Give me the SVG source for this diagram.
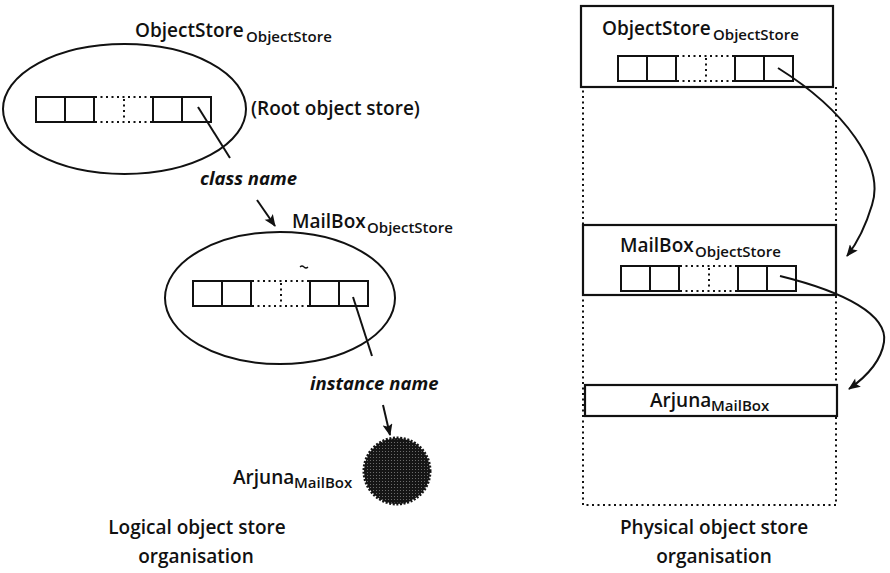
<svg xmlns="http://www.w3.org/2000/svg" width="890" height="573" viewBox="0 0 890 573">
  <style>
    .t { font-family: "Open Sans", "Liberation Sans", sans-serif; font-weight: 600; font-size: 19px; fill: #111; }
    .sub { font-family: "Open Sans", "Liberation Sans", sans-serif; font-weight: 600; font-size: 15px; fill: #111; }
    .it { font-family: "Open Sans", "Liberation Sans", sans-serif; font-weight: 700; font-style: italic; font-size: 18.5px; fill: #111; }
    .solid { fill: none; stroke: #111; stroke-width: 2; }
    .box { fill: #fff; stroke: #111; stroke-width: 2.2; }
    .dot { fill: none; stroke: #111; stroke-width: 2; stroke-dasharray: 2 3.5; }
    .link { fill: none; stroke: #111; stroke-width: 2; }
  </style>
  <defs>
    <marker id="head" viewBox="0 0 12 10" refX="11" refY="5" markerWidth="13" markerHeight="10" markerUnits="userSpaceOnUse" orient="auto">
      <path d="M0,0 L12,5 L0,10 L2.5,5 Z" fill="#111"/>
    </marker>
    <pattern id="stipple" width="3" height="3" patternUnits="userSpaceOnUse">
      <rect width="3" height="3" fill="#151515"/>
      <circle cx="1.5" cy="1.5" r="0.55" fill="#7a7a7a"/>
    </pattern>
    <!-- a row of name slots: two cells, a dotted gap, two cells -->
    <g id="slots">
      <rect class="solid" x="0" y="0" width="58" height="25"/>
      <line class="solid" x1="29" y1="0" x2="29" y2="25"/>
      <line class="dot" x1="59" y1="0" x2="117" y2="0"/>
      <line class="dot" x1="59" y1="25" x2="117" y2="25"/>
      <line class="dot" x1="88" y1="2" x2="88" y2="24"/>
      <rect class="solid" x="117" y="0" width="58" height="25"/>
      <line class="solid" x1="146" y1="0" x2="146" y2="25"/>
    </g>
  </defs>

  <!-- logical organisation -->
  <g id="root-store">
    <text class="t" x="135" y="37">ObjectStore</text>
    <text class="sub" x="246" y="42">ObjectStore</text>
    <ellipse class="solid" cx="124.5" cy="109" rx="121.5" ry="65"/>
    <use href="#slots" x="36" y="97"/>
    <text class="t" x="251" y="115">(Root object store)</text>
  </g>

  <g id="mailbox-store">
    <text class="t" x="292" y="228">MailBox</text>
    <text class="sub" x="367" y="233">ObjectStore</text>
    <ellipse class="solid" cx="280" cy="298" rx="115" ry="66"/>
    <use href="#slots" x="193" y="281"/>
    <path d="M300,267 q2,-2 4,0 t4,0" fill="none" stroke="#111" stroke-width="1.2"/>
  </g>

  <g id="arjuna-object">
    <text class="t" x="233" y="484">Arjuna</text>
    <text class="sub" x="294" y="488">MailBox</text>
    <circle cx="397" cy="471" r="33" fill="url(#stipple)" stroke="#151515" stroke-width="3" stroke-dasharray="2 1.6"/>
  </g>

  <g id="logical-caption">
    <text class="t" x="197" y="534" text-anchor="middle">Logical object store</text>
    <text class="t" x="196" y="563" text-anchor="middle">organisation</text>
  </g>

  <!-- physical organisation -->
  <g id="physical-store">
    <rect class="dot" x="583" y="87" width="253" height="418"/>
  </g>

  <g id="phys-root">
    <rect class="box" x="581" y="6" width="252" height="81"/>
    <text class="t" x="602" y="35">ObjectStore</text>
    <text class="sub" x="713" y="40">ObjectStore</text>
    <use href="#slots" x="618" y="56"/>
  </g>

  <g id="phys-mailbox">
    <rect class="box" x="583" y="225" width="253" height="70"/>
    <text class="t" x="620" y="252">MailBox</text>
    <text class="sub" x="695" y="257">ObjectStore</text>
    <use href="#slots" x="621" y="266"/>
  </g>

  <g id="phys-arjuna">
    <rect class="box" x="585" y="385" width="252" height="31"/>
    <text class="t" x="650" y="407">Arjuna</text>
    <text class="sub" x="711" y="411">MailBox</text>
  </g>

  <g id="physical-caption">
    <text class="t" x="714" y="534" text-anchor="middle">Physical object store</text>
    <text class="t" x="714" y="563" text-anchor="middle">organisation</text>
  </g>

  <!-- connectors -->
  <g id="connectors">
    <line class="link" x1="198" y1="107" x2="230" y2="158"/>
    <text class="it" x="200" y="185">class name</text>
    <line class="link" x1="257" y1="200" x2="275" y2="226" marker-end="url(#head)"/>
    <line class="link" x1="353" y1="297" x2="372" y2="356"/>
    <text class="it" x="310" y="390">instance name</text>
    <line class="link" x1="383" y1="405" x2="390" y2="435" marker-end="url(#head)"/>
    <path class="link" d="M778,68 C845,110 885,165 872,205 C866,225 858,242 847,256" marker-end="url(#head)"/>
    <path class="link" d="M780,276 C845,292 888,315 884,342 C881,362 866,377 849,389" marker-end="url(#head)"/>
  </g>
</svg>
